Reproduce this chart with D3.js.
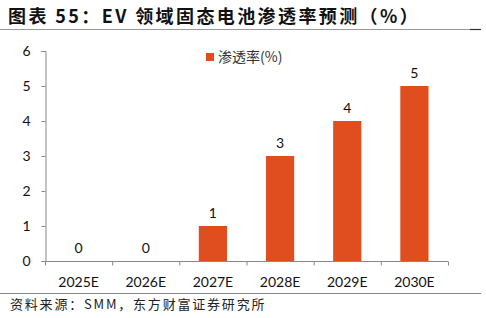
<!DOCTYPE html>
<html><head><meta charset="utf-8">
<script src="https://cdn.jsdelivr.net/npm/d3@7"></script>
<style>body{margin:0;background:#fff}svg{display:block}</style>
</head><body>
<svg id="c" width="486" height="318"></svg>
<script>
const categories = ["2025E","2026E","2027E","2028E","2029E","2030E"];
const values = [0,0,1,3,4,5];
const yTicks = [0,1,2,3,4,5,6];
const seriesName = "渗透率(%)";
const title = "图表 55：EV 领域固态电池渗透率预测（%）";
const source = "资料来源：SMM，东方财富证券研究所";

const svg = d3.select("#c");
const font = "Lato, 'Noto Sans CJK SC', sans-serif";
const color = "#E04E1F";

svg.append("text").attr("x",8).attr("y",23).attr("font-family","'Noto Sans CJK SC', sans-serif")
  .attr("font-weight","bold").attr("font-size",18).attr("letter-spacing",2.4).attr("fill","#111").text(title);
svg.append("line").attr("x1",0).attr("x2",481).attr("y1",29.5).attr("y2",29.5).attr("stroke","#999").attr("stroke-width",1.2);
svg.append("line").attr("x1",470).attr("x2",481).attr("y1",29.5).attr("y2",29.5).attr("stroke","#333").attr("stroke-width",1.2);

const x = d3.scaleBand().domain(categories).range([45,448]).paddingInner(0.58).paddingOuter(0.29);
const y = d3.scaleLinear().domain([0,6]).range([261,51]);

const g = svg.append("g");
g.selectAll("rect").data(values).join("rect")
  .attr("x",(d,i)=>x(categories[i])).attr("width",x.bandwidth())
  .attr("y",d=>y(d)).attr("height",d=>y(0)-y(d)).attr("fill",color);
g.selectAll("text.lbl").data(values).join("text").attr("class","lbl")
  .attr("x",(d,i)=>x(categories[i])+x.bandwidth()/2).attr("y",d=>y(d)-8)
  .attr("text-anchor","middle").attr("font-family",font).attr("font-size",14).attr("fill","#111").text(d=>d);

const yAxis = svg.append("g").attr("transform","translate(45.5,0)")
  .call(d3.axisLeft(y).tickValues(yTicks).tickSize(4).tickPadding(11).tickFormat(d3.format("d")));
const xAxis = svg.append("g").attr("transform","translate(0,261.5)")
  .call(d3.axisBottom(x).tickSize(0).tickPadding(16));
[yAxis,xAxis].forEach(a=>{
  a.selectAll("path,line").attr("stroke","#888");
  a.selectAll("text").attr("font-family",font).attr("font-size",14).attr("fill","#111");
});
xAxis.select(".domain").attr("d","M45,0H448");
xAxis.selectAll("line.sep").data(d3.range(categories.length+1)).join("line").attr("class","sep")
  .attr("x1",i=>45+i*(403/categories.length)+0.5).attr("x2",i=>45+i*(403/categories.length)+0.5)
  .attr("y1",0).attr("y2",4).attr("stroke","#888");

svg.append("rect").attr("x",206).attr("y",53).attr("width",8).attr("height",8).attr("fill",color);
svg.append("text").attr("x",218).attr("y",62).attr("font-family","'Noto Sans CJK SC', sans-serif")
  .attr("font-size",14).attr("fill","#333").text(seriesName);

svg.append("line").attr("x1",0).attr("x2",481).attr("y1",293.5).attr("y2",293.5).attr("stroke","#888").attr("stroke-width",1);
svg.append("text").attr("x",10).attr("y",309).attr("font-family","'Noto Sans CJK SC', sans-serif")
  .attr("font-size",13).attr("letter-spacing",1.8).attr("fill","#222").text(source);
</script>
</body></html>
